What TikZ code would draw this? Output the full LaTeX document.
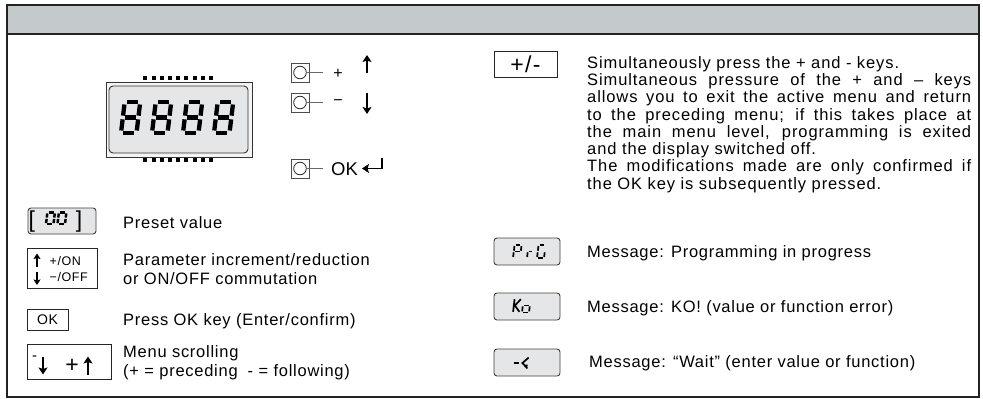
\documentclass[tikz,border=0pt]{standalone}
\usepackage{fontspec}
\setmainfont{Liberation Sans}
\newfontfamily\descfont[LetterSpace=5.5]{Liberation Sans}
\newfontfamily\lblfont[LetterSpace=4.5]{Liberation Sans}
\newfontfamily\msgfont[LetterSpace=4.5]{Liberation Sans}
\usetikzlibrary{arrows.meta}
\definecolor{headgray}{RGB}{196,201,203}
\definecolor{lcd}{RGB}{228,230,231}
\definecolor{lcdout}{RGB}{244,244,244}
\definecolor{framec}{RGB}{35,35,35}
\def\segA{(0.16,1)--(0.84,1)}
\def\segB{(1,0.92)--(1,0.56)}
\def\segC{(1,0.44)--(1,0.08)}
\def\segD{(0.16,0)--(0.84,0)}
\def\segE{(0,0.44)--(0,0.08)}
\def\segF{(0,0.92)--(0,0.56)}
\def\segG{(0.16,0.5)--(0.84,0.5)}
\newcommand\sevseg[6]{%
  \begin{scope}[shift={(#1,#2)},xslant=0.12,x=#3pt,y=#4pt]
  \foreach \s in {#6}{\edef\segtmp{\noexpand\draw[line width=#5pt,line cap=butt] \csname seg\s\endcsname;}\segtmp}
  \end{scope}}
\newcommand\segpath[6]{%
  \begin{scope}[shift={(#1,#2)},xslant=0.12,x=#3pt,y=#4pt]
  \draw[line width=#5pt] #6;
  \end{scope}}
\begin{document}
\begin{tikzpicture}[x=1pt,y=-1pt,
  lbl/.style={anchor=base west,inner sep=0pt,font=\lblfont\fontsize{16.5}{19}\selectfont},
  msg/.style={anchor=base west,inner sep=0pt,font=\msgfont\fontsize{16.5}{19}\selectfont},
  desc/.style={anchor=north west,inner sep=0pt,text width=384pt,align=justify,font=\descfont\fontsize{16.5}{17.3}\selectfont},
  lcdbox/.style={draw=black!75,fill=lcd,rounded corners=3pt,line width=0.9pt,inner sep=0pt},
  keybox/.style={draw=black!85,fill=white,line width=0.9pt,inner sep=0pt},
  btn/.style={draw=black!70,line width=0.8pt,minimum width=18pt,minimum height=19pt,inner sep=0pt},
  bigarrow/.style={line width=1.4pt,-{Stealth[length=7pt,width=9pt,inset=1.5pt]}},
  smallarrow/.style={line width=1.1pt,-{Stealth[length=5.5pt,width=7pt,inset=1pt]}}]
\useasboundingbox (0,0) rectangle (983,399);
% frame and header
\fill[headgray] (7,5) rectangle (979,34);
\draw[framec,line width=1.8pt] (7,5) rectangle (979,397);
\draw[framec,line width=1.8pt] (7,34) -- (979,34);
% display
\node[draw=black!80,fill=lcdout,line width=1pt,minimum width=146pt,minimum height=75pt,inner sep=0pt] (disp) at (179,119.5) {};
\node[draw=black!80,fill=lcd,rounded corners=4pt,line width=0.9pt,minimum width=139pt,minimum height=67pt,inner sep=0pt] (scr) at (178.5,119.5) {};
\foreach \i in {0,...,8} {
  \fill (143.3+\i*8.2,76) rectangle ++(4,4);
  \fill (143.3+\i*8.2,158.3) rectangle ++(4,4);
}
\foreach \x in {121,152,183,214} {\sevseg{\x}{133}{15.5}{31}{4.3}{A,B,C,D,E,F,G}}
% buttons
\foreach \n/\y in {b1/72.5,b2/102.5,b3/168.5} {
  \node[btn] (\n) at (300,\y) {};
  \draw[black!85,line width=0.8pt] (\n.center) circle (6.3pt);
  \draw[black!60,line width=1pt] ([xshift=6.3pt]\n.center) -- ++(17,0);
}
\node[font=\fontsize{16}{16}\selectfont,inner sep=0pt] (plus) at (338,74) {+};
\node[font=\fontsize{16}{16}\selectfont,inner sep=0pt] (minus) at (338,102.5) {\textminus};
\node[font=\fontsize{18.5}{18.5}\selectfont,anchor=west,inner sep=0pt] (ok) at (331,169) {OK};
\coordinate (u1) at (367,73); \coordinate (u2) at (367,55);
\coordinate (d1) at (367,93); \coordinate (d2) at (367,114);
\coordinate (r1) at (382,158); \coordinate (r2) at (362,168.5);
\draw[bigarrow] (u1) -- (u2);
\draw[bigarrow] (d1) -- (d2);
\draw[bigarrow] (r1) |- (r2);
% left legend
\node[lcdbox,minimum width=68pt,minimum height=26pt] (pv) at (62,221) {};
\node[font=\fontsize{23}{23}\selectfont,anchor=base west,inner sep=0pt] (lb) at (28.5,227) {[};
\node[font=\fontsize{23}{23}\selectfont,anchor=base east,inner sep=0pt] (rb) at (82.5,227) {]};
\sevseg{46}{224}{7.5}{11.5}{2.5}{A,B,C,D,E,F}
\sevseg{57.5}{224}{7.5}{11.5}{2.5}{A,B,C,D,E,F}
\node[lbl] (t1) at (123,228.5) {Preset value};
\node[keybox,minimum width=70pt,minimum height=40pt] (pm) at (62,268) {};
\coordinate (a1) at (37,267); \coordinate (a2) at (37,253.5);
\coordinate (a3) at (37,272); \coordinate (a4) at (37,285);
\draw[smallarrow] (a1) -- (a2);
\draw[smallarrow] (a3) -- (a4);
\node[font=\lblfont\fontsize{12.5}{12.5}\selectfont,anchor=base west,inner sep=0pt] (on) at (49.5,265.5) {+/ON};
\node[font=\lblfont\fontsize{12.5}{12.5}\selectfont,anchor=base west,inner sep=0pt] (off) at (49.5,281.5) {\textminus/OFF};
\node[lbl] (t2a) at (123,265.5) {Parameter increment/reduction};
\node[lbl] (t2b) at (123,284.5) {or ON/OFF commutation};
\node[keybox,minimum width=41pt,minimum height=21pt,font=\lblfont\fontsize{14}{14}\selectfont] (okb) at (47.5,319.5) {OK};
\node[lbl] (t3) at (123,325.5) {Press OK key (Enter/confirm)};
\node[keybox,minimum width=84pt,minimum height=35pt] (sc) at (69,361.5) {};
\node[font=\fontsize{15}{15}\selectfont,inner sep=0pt] (sm) at (34.5,358.5) {-};
\coordinate (s1) at (43,356.5); \coordinate (s2) at (43,374.5);
\coordinate (s3) at (88,374.5); \coordinate (s4) at (88,356.5);
\draw[bigarrow] (s1) -- (s2);
\draw[bigarrow] (s3) -- (s4);
\node[font=\fontsize{23}{23}\selectfont,inner sep=0pt] (sp) at (72,366) {+};
\node[lbl] (t4a) at (123,357.5) {Menu scrolling};
\node[lbl] (t4b) at (123,376) {(+ = preceding\hspace{10pt}- = following)};
% right legend
\node[keybox,minimum width=63pt,minimum height=26pt,font=\descfont\fontsize{23}{23}\selectfont] (pmk) at (525.5,64) {+/-};
\node[desc] (d) at (587,56) {\parindent=0pt\parskip=0pt\hyphenpenalty=10000
Simultaneously press the + and - keys.\par
Simultaneous pressure of the + and – keys\linebreak
allows you to exit the active menu and return\linebreak
to the preceding menu; if this takes place at\linebreak
the main menu level, programming is exited\linebreak
and the display switched off.\par
The modifications made are only confirmed if\linebreak
the OK key is subsequently pressed.\par};
\node[lcdbox,minimum width=66pt,minimum height=27pt] (prg) at (527,251.5) {};
\sevseg{513}{258}{7}{13}{1.7}{A,B,E,F,G}
\sevseg{527}{258}{5}{13}{1.7}{E,G}
\sevseg{537}{258}{7}{13}{1.7}{A,C,D,E,F}
\node[msg] (m1) at (587,257.5) {Message: Programming in progress};
\node[lcdbox,minimum width=66pt,minimum height=27pt] (ko) at (527,306.5) {};
\segpath{513}{312.5}{7}{14}{1.7}{(0,0.05)--(0,0.95) (0.15,0.5)--(0.9,0.95) (0.15,0.5)--(0.9,0.05)}
\sevseg{522}{312.5}{7}{14}{1.7}{C,D,E,G}
\node[msg] (m2) at (587,312.5) {Message: KO! (value or function error)};
\node[lcdbox,minimum width=66pt,minimum height=27pt] (wt) at (527,362.5) {};
\segpath{513}{369}{5}{12}{1.7}{(0,0.5)--(1,0.5)}
\segpath{521}{369}{7}{12}{1.7}{(0.9,0.95)--(0.1,0.5)--(0.9,0.05) (0.5,0.3)--(0.9,0.3)}
\node[msg] (m3) at (589,367.5) {Message: “Wait” (enter value or function)};
\end{tikzpicture}
\end{document}
